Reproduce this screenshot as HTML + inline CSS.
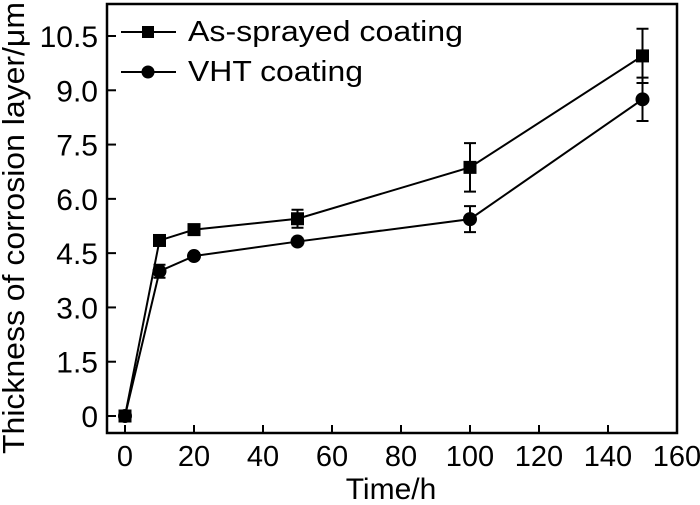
<!DOCTYPE html>
<html><head><meta charset="utf-8"><style>
html,body{margin:0;padding:0;background:#fff;}
svg{display:block;font-family:"Liberation Sans",Arial,sans-serif;}
</style></head><body>
<svg id="chart" width="700" height="505" viewBox="0 0 700 505" xmlns="http://www.w3.org/2000/svg">
<rect x="107" y="4" width="570" height="429" fill="none" stroke="#000" stroke-width="2.5"/>
<g id="ticks"></g>
<g id="series"></g>
<text x="391" y="499" font-size="30" text-anchor="middle">Time/h</text>
<text transform="translate(24,228) rotate(-90)" font-size="31" text-anchor="middle" textLength="452" lengthAdjust="spacingAndGlyphs">Thickness of corrosion layer/μm</text>
<g>
<line x1="121" y1="32" x2="176" y2="32" stroke="#000" stroke-width="2"/>
<rect x="142" y="26" width="12" height="12" fill="#000"/>
<text x="188" y="41" font-size="29" textLength="275" lengthAdjust="spacingAndGlyphs">As-sprayed coating</text>
<line x1="121" y1="72" x2="176" y2="72" stroke="#000" stroke-width="2"/>
<circle cx="148" cy="72" r="6.5" fill="#000"/>
<text x="188" y="81" font-size="29" textLength="175" lengthAdjust="spacingAndGlyphs">VHT coating</text>
</g>
</svg>
<script>
const times = [0, 10, 20, 50, 100, 150];
const asSprayed = [0, 4.85, 5.15, 5.45, 6.87, 9.95];
const asSprayedErr = [0, 0.08, 0.08, 0.25, 0.67, 0.75];
const vht = [0, 4.0, 4.42, 4.82, 5.44, 8.75];
const vhtErr = [0, 0.18, 0.08, 0.08, 0.36, 0.6];
const xTicks = [0, 20, 40, 60, 80, 100, 120, 140, 160];
const yTicks = [0, 1.5, 3.0, 4.5, 6.0, 7.5, 9.0, 10.5];
const yTickLabels = ["0", "1.5", "3.0", "4.5", "6.0", "7.5", "9.0", "10.5"];

const NS = "http://www.w3.org/2000/svg";
const xs = v => 125 + (v / 160) * (677 - 125);
const ys = v => 416 - (v / 10.5) * (416 - 36);
function mk(tag, attrs, parent) {
  const e = document.createElementNS(NS, tag);
  for (const k in attrs) e.setAttribute(k, attrs[k]);
  parent.appendChild(e);
  return e;
}
const tg = document.getElementById('ticks');
xTicks.forEach(t => {
  const l = mk('line', {x1: xs(t), x2: xs(t), y1: 433, y2: 425, stroke: '#000', 'stroke-width': 2}, tg);
  
  
  const tx = mk('text', {x: xs(t), y: 466, 'font-size': 29, 'text-anchor': 'middle'}, tg);
  tx.textContent = t;
  
  
});
yTicks.forEach((t, i) => {
  const l = mk('line', {x1: 107, x2: 116, y1: ys(t), y2: ys(t), stroke: '#000', 'stroke-width': 2}, tg);
  
  
  const tx = mk('text', {x: 98, y: ys(t) + 11, 'font-size': 30, 'text-anchor': 'end'}, tg);
  tx.textContent = yTickLabels[i];
  
  
});
const sg = document.getElementById('series');
function drawSeries(vals, errs, shape, name) {
  const g = mk('g', {}, sg);
  
  
  const pts = times.map((t, i) => xs(t) + ',' + ys(vals[i])).join(' ');
  const pl = mk('polyline', {points: pts, fill: 'none', stroke: '#000', 'stroke-width': 2}, g);
  
  
  times.forEach((t, i) => {
    const x = xs(t), y = ys(vals[i]);
    if (errs[i] > 0) {
      const y1 = ys(vals[i] + errs[i]), y2 = ys(vals[i] - errs[i]);
      const eb = mk('path', {d: `M${x},${y1}V${y2}M${x-6},${y1}H${x+6}M${x-6},${y2}H${x+6}`, stroke: '#000', 'stroke-width': 2, fill: 'none'}, g);
      
      
    }
    let m;
    if (shape === 'square') m = mk('rect', {x: x - 6.5, y: y - 6.5, width: 13, height: 13, fill: '#000'}, g);
    else m = mk('circle', {cx: x, cy: y, r: 7, fill: '#000'}, g);
    
    
  });
}
drawSeries(vht, vhtErr, 'circle', 'vht-series');
drawSeries(asSprayed, asSprayedErr, 'square', 'as-sprayed-series');
</script>
</body></html>
